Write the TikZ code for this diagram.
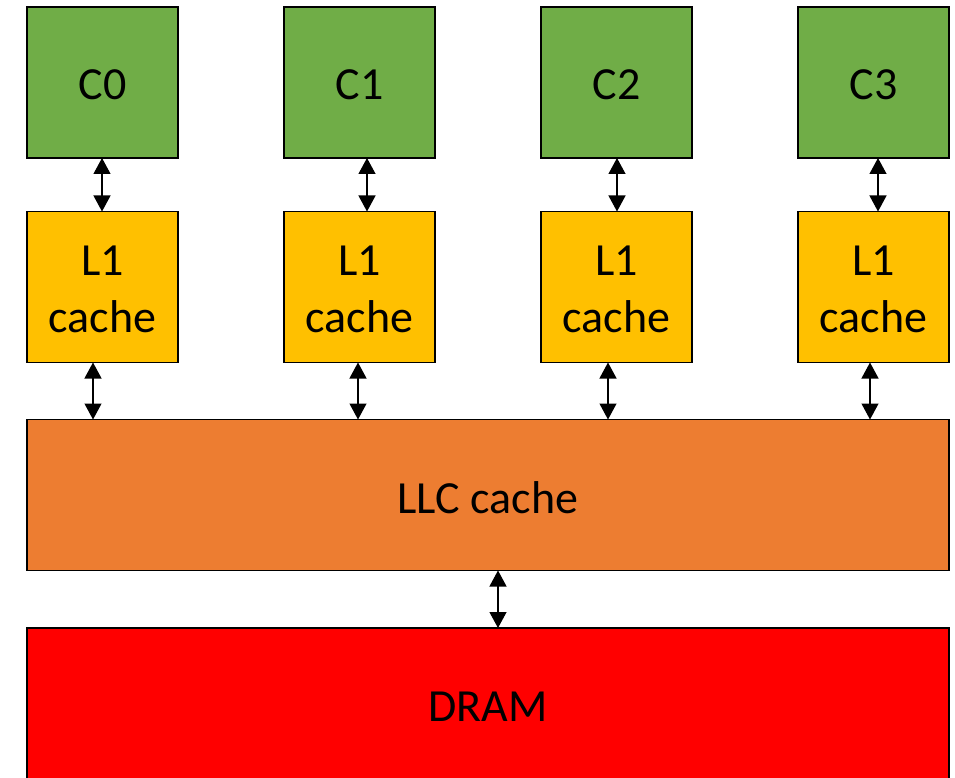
\documentclass[tikz,border=0pt]{standalone}
\usepackage{fontspec}
\setmainfont{Carlito}
\usetikzlibrary{arrows.meta}
\definecolor{cgreen}{HTML}{70AD47}
\definecolor{cyellow}{HTML}{FFC000}
\definecolor{corange}{HTML}{ED7D31}
\definecolor{cred}{HTML}{FF0000}
\newcommand{\lowtxt}[1]{\raisebox{-2.5pt}[\height][\depth]{#1}}
\begin{document}
\begin{tikzpicture}[x=1pt,y=-1pt,
  box/.style={draw=black, line width=1.6pt, inner sep=0pt, outer sep=0pt,
    font=\fontsize{46}{57}\selectfont, align=center},
  corebox/.style={box, fill=cgreen, minimum width=151pt, minimum height=151pt},
  l1box/.style={box, fill=cyellow, minimum width=151pt, minimum height=151pt},
  arr/.style={line width=1.2pt, {Triangle[length=16pt,width=17pt]}-{Triangle[length=16pt,width=17pt]}}]
\useasboundingbox (0,0) rectangle (955,778);
\begin{scope}
\clip (0,0) rectangle (955,778);
\node[box, fill=cred, minimum width=922pt, minimum height=153pt] (dram) at (488,704.5) {};
\node[font=\fontsize{46}{57}\selectfont] at ([yshift=-2pt]dram.center) {DRAM};
\end{scope}
\node[corebox] (c0) at (102.5,82.5) {\lowtxt{C0}};
\node[corebox] (c1) at (359.5,82.5) {\lowtxt{C1}};
\node[corebox] (c2) at (616.5,82.5) {\lowtxt{C2}};
\node[corebox] (c3) at (873.5,82.5) {\lowtxt{C3}};
\node[l1box] (l0) at (102.5,287) {\lowtxt{L1}\\\lowtxt{cache}};
\node[l1box] (l1) at (359.5,287) {\lowtxt{L1}\\\lowtxt{cache}};
\node[l1box] (l2) at (616.5,287) {\lowtxt{L1}\\\lowtxt{cache}};
\node[l1box] (l3) at (873.5,287) {\lowtxt{L1}\\\lowtxt{cache}};
\node[box, fill=corange, minimum width=922pt, minimum height=151pt] (llc) at (488,495) {\lowtxt{LLC cache}};
\draw[arr] ([xshift=-0.5pt]c0.south) -- ([xshift=-0.5pt]l0.north);
\draw[arr] ([xshift=7.5pt]c1.south) -- ([xshift=7.5pt]l1.north);
\draw[arr] ([xshift=0.5pt]c2.south) -- ([xshift=0.5pt]l2.north);
\draw[arr] ([xshift=4.5pt]c3.south) -- ([xshift=4.5pt]l3.north);
\draw[arr] ([xshift=-9.5pt]l0.south) -- ([xshift=-9.5pt]l0.south |- llc.north);
\draw[arr] ([xshift=-1.5pt]l1.south) -- ([xshift=-1.5pt]l1.south |- llc.north);
\draw[arr] ([xshift=-8.5pt]l2.south) -- ([xshift=-8.5pt]l2.south |- llc.north);
\draw[arr] ([xshift=-3.5pt]l3.south) -- ([xshift=-3.5pt]l3.south |- llc.north);
\draw[arr] ([xshift=10pt]llc.south) -- ([xshift=10pt]llc.south |- dram.north);
\end{tikzpicture}
\end{document}
